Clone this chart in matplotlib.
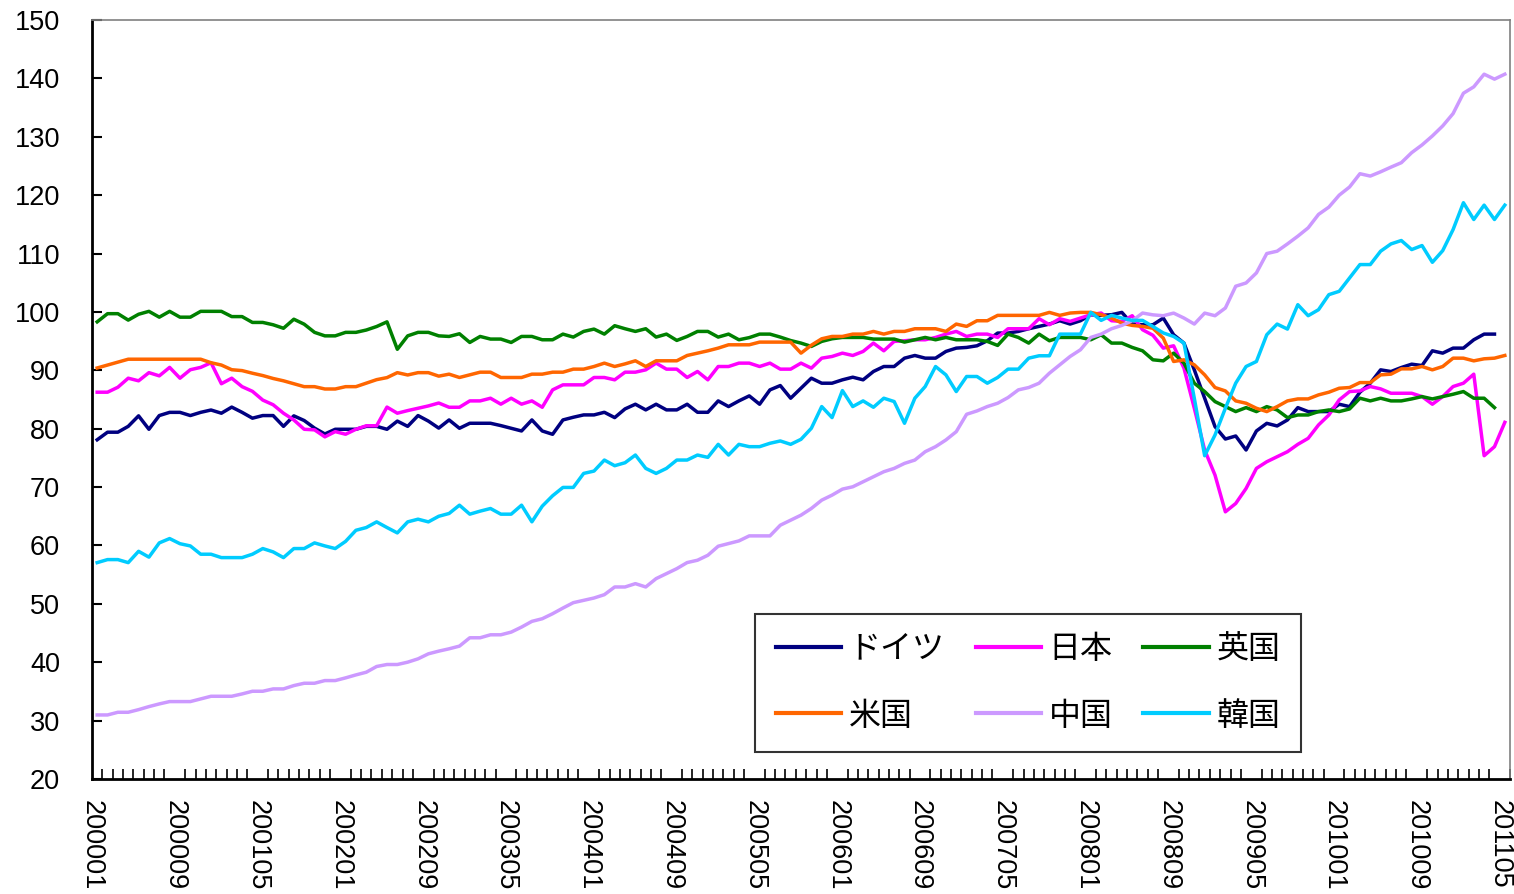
import numpy as np
import matplotlib
matplotlib.use("Agg")
import matplotlib.pyplot as plt

plt.rcParams['font.family'] = ['Liberation Sans', 'Noto Sans CJK JP', 'DejaVu Sans']

# 月次 2000/01 - 2011/05
months = [f"{y}{m:02d}" for y in range(2000, 2012) for m in range(1, 13)][:137]

germany = [
    78.1, 79.4, 79.4, 80.4, 82.2, 79.9, 82.25, 82.8, 82.8, 82.25, 82.8, 83.2, 82.65, 83.7, 82.8, 81.8,
    82.25, 82.25, 80.4, 82.2, 81.4, 80.1, 79.1, 79.9, 79.9, 79.9, 80.4, 80.4, 79.9, 81.3, 80.4, 82.25,
    81.3, 80.1,
    81.5, 80.07, 80.93, 80.93, 80.93, 80.53, 80.07, 79.61, 81.5, 79.61, 79.04, 81.5, 81.96, 82.36, 82.36,
    82.81, 81.9, 83.39, 84.19, 83.22, 84.19, 83.22, 83.22, 84.19, 82.81, 82.81, 84.76, 83.79, 84.76, 85.62,
    84.19, 86.65, 87.39, 85.22, 86.93, 88.65,
    87.79, 87.79, 88.37, 88.82, 88.37, 89.8, 90.65, 90.65, 92.08, 92.54, 92.08, 92.08, 93.23, 93.8, 93.92,
    94.2, 95.06, 96.38, 96.38, 96.66, 97.12, 97.52, 97.92, 98.49, 97.92, 98.49, 99.52, 99.41, 99.52, 99.92,
    97.92, 97.81,
    97.8, 98.95, 96.09, 94.66, 90.08, 85.22, 80.35, 78.23, 78.75, 76.35, 79.61, 80.92, 80.47, 81.5, 83.61,
    82.93, 82.93, 82.93, 84.19, 83.78, 86.25, 87.79, 90.08, 89.79, 90.48, 91.05, 90.82, 93.34, 92.94, 93.8,
    93.8, 95.23, 96.2, 96.2, np.nan,
]

japan = [
    86.25, 86.25, 87.1, 88.65, 88.2, 89.6, 89.05, 90.5, 88.65, 90.1, 90.5, 91.3, 87.7, 88.65, 87.2, 86.4,
    84.9, 84.1, 82.65, 81.5, 79.9, 79.8, 78.6, 79.5, 79.05, 79.9, 80.5, 80.5, 83.7, 82.65, 83.1, 83.5,
    83.9, 84.4,
    83.67, 83.67, 84.76, 84.76, 85.22, 84.2, 85.22, 84.2, 84.76, 83.67, 86.65, 87.51, 87.51, 87.51, 88.77,
    88.77, 88.37, 89.68, 89.68, 90.08, 91.23, 90.2, 90.2, 88.77, 89.8, 88.37, 90.65, 90.65, 91.23, 91.23,
    90.65, 91.23, 90.2, 90.2, 91.23, 90.37,
    92.08, 92.37, 92.94, 92.54, 93.23, 94.66, 93.34, 94.95, 95.06, 95.23, 95.23, 95.63, 96.2, 96.66, 95.8,
    96.2, 96.2, 95.63, 97.12, 97.12, 97.12, 98.84, 97.81, 98.84, 98.38, 98.95, 99.52, 99.81, 98.49, 98.38,
    99.35, 96.95,
    96.0, 93.8, 94.2, 90.37, 83.5, 76.35, 72.05, 65.76, 67.19, 69.76, 73.2, 74.34, 75.2, 76.06, 77.32,
    78.35, 80.64, 82.35, 84.93, 86.36, 86.47, 87.22, 86.82, 86.07, 86.07, 86.07, 85.5, 84.19, 85.5, 87.22,
    87.79, 89.34, 75.37, 76.92, 81.09,
]

uk = [
    98.3, 99.7, 99.7, 98.6, 99.6, 100.1, 99.1, 100.1, 99.1, 99.1, 100.1, 100.1, 100.1, 99.2, 99.2, 98.2,
    98.2, 97.8, 97.2, 98.75, 97.9, 96.5, 95.9, 95.9, 96.5, 96.5, 96.9, 97.5, 98.3, 93.6, 95.9, 96.5,
    96.5, 95.9,
    95.8, 96.26, 94.77, 95.8, 95.35, 95.35, 94.77, 95.8, 95.8, 95.23, 95.23, 96.2, 95.69, 96.66, 97.06,
    96.2, 97.64, 97.12, 96.66, 97.12, 95.69, 96.2, 95.12, 95.8, 96.66, 96.66, 95.69, 96.2, 95.23, 95.6,
    96.2, 96.2, 95.69, 95.1, 94.66, 94.09,
    94.95, 95.4, 95.63, 95.63, 95.63, 95.35, 95.35, 95.35, 94.83, 95.23, 95.63, 95.23, 95.63, 95.23, 95.23,
    95.23, 94.95, 94.26, 96.2, 95.63, 94.66, 96.2, 95.06, 95.63, 95.63, 95.63, 95.23, 96.09, 94.66, 94.66,
    93.92, 93.34,
    91.8, 91.62, 92.94, 91.22, 87.79, 86.36, 84.64, 83.78, 82.93, 83.61, 82.93, 83.78, 83.21, 81.9, 82.35,
    82.35, 82.93, 83.21, 82.93, 83.38, 85.22, 84.76, 85.22, 84.76, 84.76, 85.1, 85.5, 85.1, 85.5, 85.9,
    86.36, 85.22, 85.22, 83.61, np.nan,
]

usa = [
    90.4, 90.9, 91.4, 91.9, 91.9, 91.9, 91.9, 91.9, 91.9, 91.9, 91.9, 91.3, 90.9, 90.1, 89.95, 89.5,
    89.1, 88.6, 88.2, 87.7, 87.2, 87.2, 86.8, 86.8, 87.2, 87.2, 87.8, 88.4, 88.75, 89.6, 89.2, 89.6,
    89.6, 89.0,
    89.34, 88.77, 89.22, 89.68, 89.68, 88.77, 88.77, 88.77, 89.34, 89.34, 89.68, 89.68, 90.2, 90.2, 90.65,
    91.23, 90.65, 91.1, 91.63, 90.65, 91.63, 91.63, 91.63, 92.54, 92.94, 93.34, 93.8, 94.37, 94.37, 94.37,
    94.83, 94.83, 94.83, 94.83, 92.94, 94.3,
    95.4, 95.8, 95.8, 96.2, 96.2, 96.66, 96.2, 96.66, 96.66, 97.12, 97.12, 97.12, 96.66, 97.92, 97.52,
    98.49, 98.49, 99.41, 99.41, 99.41, 99.41, 99.41, 99.92, 99.41, 99.81, 99.92, 99.92, 99.52, 98.95, 98.09,
    97.69, 97.52,
    97.2, 95.52, 91.51, 91.8, 90.94, 89.22, 87.05, 86.47, 84.76, 84.36, 83.5, 82.93, 83.78, 84.76, 85.1,
    85.1, 85.79, 86.25, 86.93, 87.05, 87.9, 87.9, 89.22, 89.34, 90.25, 90.25, 90.65, 90.08, 90.65, 92.08,
    92.08, 91.62, 91.97, 92.08, 92.54,
]

china = [
    30.97, 30.97, 31.43, 31.43, 31.88, 32.4, 32.86, 33.26, 33.26, 33.26, 33.71, 34.17, 34.17, 34.17, 34.57,
    35.03, 35.03, 35.43, 35.43, 36.0, 36.4, 36.4, 36.86, 36.86, 37.32, 37.83, 38.29, 39.27, 39.61, 39.61,
    40.01, 40.58, 41.44, 41.9,
    42.3, 42.76, 44.19, 44.19, 44.7, 44.7, 45.16, 46.02, 47.0, 47.45, 48.31, 49.28, 50.2, 50.6, 51.0,
    51.57, 52.89, 52.89, 53.46, 52.89, 54.32, 55.18, 56.03, 57.07, 57.47, 58.32, 59.87, 60.33, 60.78, 61.64,
    61.64, 61.64, 63.47, 64.33, 65.19, 66.34,
    67.76, 68.62, 69.65, 70.05, 70.91, 71.77, 72.63, 73.2, 74.06, 74.63, 76.06, 76.92, 78.07, 79.49, 82.47,
    83.04, 83.79, 84.36, 85.33, 86.65, 87.05, 87.79, 89.51, 90.94, 92.37, 93.52, 95.63, 96.2, 97.12, 97.69,
    98.49, 99.81,
    99.5, 99.35, 99.8, 98.95, 97.92, 99.8, 99.35, 100.67, 104.4, 104.96, 106.68, 110.0, 110.4, 111.65,
    112.97, 114.4, 116.7, 117.95, 120.0, 121.4, 123.67, 123.27, 124.0, 124.8, 125.56, 127.28, 128.6, 130.14,
    131.86, 133.97, 137.46, 138.55, 140.72, 139.87, 140.72,
]

korea = [
    57.06, 57.58, 57.58, 57.06, 59.0, 58.0, 60.44, 61.18, 60.3, 59.92, 58.5, 58.5, 57.92, 57.92, 57.92,
    58.5, 59.47, 58.9, 57.92, 59.47, 59.47, 60.44, 59.92, 59.47, 60.7, 62.6, 63.07, 64.04, 63.07, 62.15,
    64.04, 64.5, 64.04, 65.0,
    65.48, 66.9, 65.36, 65.88, 66.33, 65.36, 65.36, 66.9, 64.05, 66.73, 68.51, 69.94, 69.94, 72.34, 72.74,
    74.63, 73.66, 74.17, 75.49, 73.2, 72.34, 73.2, 74.63, 74.63, 75.49, 75.09, 77.32, 75.49, 77.32, 76.92,
    76.92, 77.5, 77.9, 77.32, 78.18, 80.07,
    83.79, 81.9, 86.53, 83.79, 84.76, 83.67, 85.22, 84.65, 80.93, 85.22, 87.22, 90.65, 89.22, 86.36, 88.94,
    88.94, 87.79, 88.77, 90.2, 90.2, 92.08, 92.49, 92.49, 96.2, 96.2, 96.2, 99.92, 98.55, 99.41, 98.95,
    98.55, 98.55,
    97.5, 96.4, 95.8, 94.66, 85.2, 75.37, 78.92, 83.5, 87.8, 90.65, 91.51, 96.09, 97.92, 97.06, 101.24,
    99.35, 100.38, 102.96, 103.53, 105.82, 108.11, 108.11, 110.4, 111.65, 112.23, 110.68, 111.37, 108.5,
    110.5, 114.1, 118.7, 115.83, 118.29, 115.83, 118.29,
]

series = [
    ("ドイツ", germany, "#000080"),
    ("日本", japan, "#FF00FF"),
    ("英国", uk, "#008000"),
    ("米国", usa, "#FF6600"),
    ("中国", china, "#CC99FF"),
    ("韓国", korea, "#00CCFF"),
]

fig = plt.figure(figsize=(15.14, 8.94), dpi=100)
ax = fig.add_axes([92 / 1514, 1 - 779 / 894, (1510 - 92) / 1514, (779 - 20) / 894])

x = np.arange(len(months))
handles = []
for name, vals, col in series:
    h, = ax.plot(x, vals, color=col, linewidth=2.5, label=name)
    handles.append(h)

ax.set_xlim(-0.5, len(months) - 0.5)
ax.set_ylim(20, 150)
ax.set_yticks(range(20, 151, 10))
ax.tick_params(axis='y', direction='in', length=7, width=1.5, labelsize=19.5, pad=23)

# 目盛りは月ごと、ラベルは8か月ごと（区切り位置に表示）
ax.set_xticks(np.arange(-0.5, len(months), 1), minor=True)
ax.set_xticks(x[::8] - 0.5)
ax.set_xticklabels(months[::8], rotation=-90, fontsize=19.5)
ax.tick_params(axis='x', which='major', length=0, pad=15)
ax.tick_params(axis='x', which='minor', direction='in', length=7, width=1.2)

for s in ['left', 'bottom']:
    ax.spines[s].set_linewidth(2)
    ax.spines[s].set_color('black')
for s in ['top', 'right']:
    ax.spines[s].set_linewidth(1.2)
    ax.spines[s].set_color('#808080')

# 行ごとに並べる（ドイツ 日本 英国 / 米国 中国 韓国）
order = [0, 3, 1, 4, 2, 5]
leg = ax.legend([handles[i] for i in order], [series[i][0] for i in order],
                ncol=3, loc='upper left', bbox_to_anchor=(755 / 1514, 1 - 614 / 894),
                bbox_transform=fig.transFigure, fontsize=23, frameon=True, fancybox=False,
                handlelength=2.04, handletextpad=0.25, columnspacing=0.96, labelspacing=1.15,
                borderpad=0.65, borderaxespad=0)
leg.get_frame().set_edgecolor('black')
leg.get_frame().set_linewidth(1.5)
for line in leg.get_lines():
    line.set_linewidth(3)

fig.savefig("out.png", dpi=100)
